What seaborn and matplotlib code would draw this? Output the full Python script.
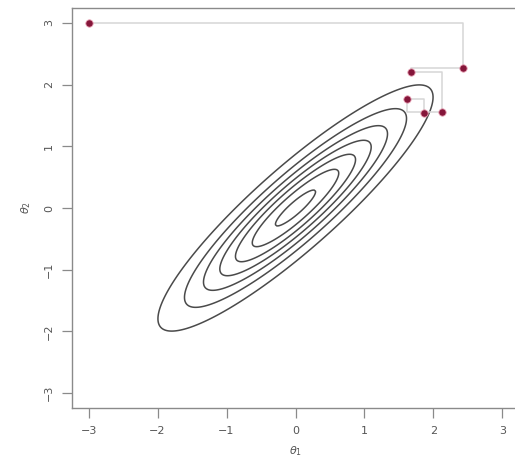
import numpy as np
import pandas as pd
import matplotlib
matplotlib.use("Agg")
import matplotlib.pyplot as plt
import seaborn as sns

# Gibbs sampler draws (theta1, theta2)
theta1 = [-3.00, 2.43, 1.68, 2.13, 1.62, 1.86]
theta2 = [3.00, 2.27, 2.20, 1.56, 1.77, 1.54]

# target bivariate normal
rho = 0.9
levels = [0.05, 0.10, 0.15, 0.20, 0.25, 0.30, 0.35]
tick_vals = [-3, -2, -1, 0, 1, 2, 3]

sns.set_style("white")
plt.rcParams['font.family'] = ['DejaVu Sans']

fig = plt.figure(figsize=(5.15, 4.70), dpi=100)
ax = fig.add_axes([72/515, 62/470, 447/515, 400/470])

# contour of density
g = np.linspace(-3.5, 3.5, 400)
X, Y = np.meshgrid(g, g)
Z = np.exp(-(X**2 - 2*rho*X*Y + Y**2) / (2*(1 - rho**2))) / (2*np.pi*np.sqrt(1 - rho**2))
ax.contour(X, Y, Z, levels=levels, colors="#4a4a4a", linewidths=1.1)

# staircase path of the Gibbs sampler
px, py = [theta1[0]], [theta2[0]]
for i in range(1, len(theta1)):
    px += [theta1[i], theta1[i]]
    py += [theta2[i-1], theta2[i]]
path = pd.DataFrame({"t1": px, "t2": py, "order": range(len(px))})
sns.lineplot(data=path, x="t1", y="t2", sort=False, estimator=None,
             color="#d6d6d6", linewidth=1.1, ax=ax)

pts = pd.DataFrame({"t1": theta1, "t2": theta2})
sns.scatterplot(data=pts, x="t1", y="t2", color="#85163a", s=28,
                edgecolor="#e8a0b4", linewidth=0.6, ax=ax, zorder=5)

ax.set_xlim(-3.24, 3.24)
ax.set_ylim(-3.24, 3.24)
ax.set_xticks(tick_vals)
ax.set_yticks(tick_vals)
ax.set_xticklabels([str(v).replace("-", "\u2212") for v in tick_vals])
ax.set_yticklabels([str(v).replace("-", "\u2212") for v in tick_vals],
                   rotation=90, va="center")
ax.tick_params(axis="both", which="major", direction="out", length=7,
               width=0.9, color="#8a8a8a", labelsize=8, labelcolor="#555555",
               pad=6, bottom=True, left=True)
for s in ax.spines.values():
    s.set_color("#8a8a8a")
    s.set_linewidth(1.0)
ax.spines["right"].set_visible(False)
ax.set_xlabel(r"$\theta_1$", fontsize=8, color="#555555", labelpad=6)
ax.set_ylabel(r"$\theta_2$", fontsize=8, color="#555555", labelpad=8)

fig.savefig("out.png", dpi=100)
